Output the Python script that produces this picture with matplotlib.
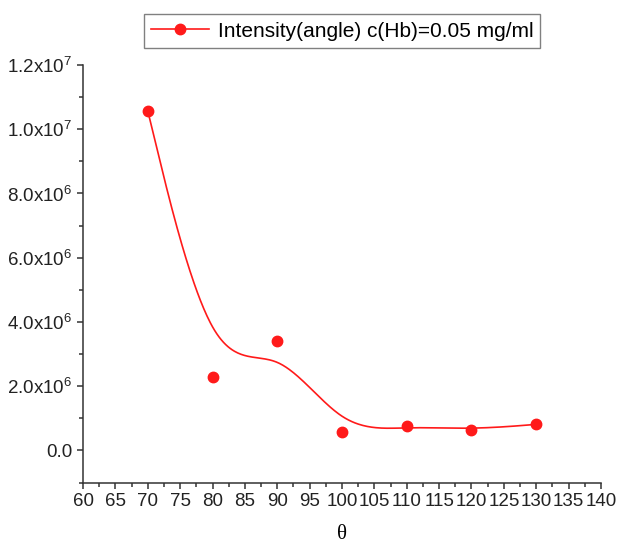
import numpy as np
import matplotlib
matplotlib.use("Agg")
import matplotlib.pyplot as plt
from matplotlib.ticker import MultipleLocator, FuncFormatter

angle = [70, 80, 90, 100, 110, 120, 130]
intensity = [10.57e6, 2.28e6, 3.40e6, 0.56e6, 0.75e6, 0.65e6, 0.81e6]
series_label = "Intensity(angle) c(Hb)=0.05 mg/ml"


def bspline(px, py, per_seg=60):
    # uniform cubic B-spline with the end points tripled, so it starts/ends on the data
    ctrl = np.column_stack([px, py]).astype(float)
    ctrl = np.vstack([ctrl[:1], ctrl[:1], ctrl, ctrl[-1:], ctrl[-1:]])
    t = np.linspace(0, 1, per_seg)
    b = np.column_stack([(1 - t) ** 3,
                         3 * t ** 3 - 6 * t ** 2 + 4,
                         -3 * t ** 3 + 3 * t ** 2 + 3 * t + 1,
                         t ** 3]) / 6
    segs = [b @ ctrl[i:i + 4] for i in range(len(ctrl) - 3)]
    out = np.vstack(segs)
    return out[:, 0], out[:, 1]


def sci_label(v, pos):
    if v == 0:
        return "0.0"
    e = int(np.floor(np.log10(abs(v)) + 1e-9))
    return r"$\mathregular{%.1fx10^{%d}}$" % (v / 10 ** e, e)


plt.rcParams["font.family"] = ["Liberation Sans", "DejaVu Sans"]
plt.rcParams["mathtext.default"] = "regular"

fig = plt.figure(figsize=(6.21, 5.47), dpi=100)
ax = fig.add_axes([0.1337, 0.1179, 0.834, 0.7633])

cx, cy = bspline(angle, intensity)
line, = ax.plot(cx, cy, color="#ff1a1a", lw=1.2)
pts, = ax.plot(angle, intensity, "o", color="#ff1a1a", ms=7.5, mec="#ff1a1a")

ax.set_xlim(60, 140)
ax.set_ylim(-1e6, 1.2e7)
ax.xaxis.set_major_locator(MultipleLocator(5))
ax.xaxis.set_minor_locator(MultipleLocator(2.5))
ax.yaxis.set_major_locator(MultipleLocator(2e6))
ax.yaxis.set_minor_locator(MultipleLocator(1e6))
ax.yaxis.set_major_formatter(FuncFormatter(sci_label))

for side in ["top", "right"]:
    ax.spines[side].set_visible(False)
for side in ["left", "bottom"]:
    ax.spines[side].set_linewidth(1.1)
    ax.spines[side].set_color("#333333")
ax.tick_params(which="major", direction="out", length=4.5, width=1.1, color="#333333",
               labelsize=13.5, labelcolor="#222222", pad=3)
ax.tick_params(which="minor", direction="out", length=2.6, width=1.1, color="#333333")

ax.set_xlabel("θ", family=["Liberation Serif", "DejaVu Serif"], fontsize=15, labelpad=11)

leg = ax.legend([(line, pts)], [series_label], loc="lower center",
                fontsize=15, fancybox=False, edgecolor="#808080",
                framealpha=1, handlelength=2.8, handletextpad=0.4, borderpad=0.35,
                borderaxespad=0, numpoints=1)
leg.set_bbox_to_anchor((0.5, 1.041), transform=ax.transAxes)
leg.get_frame().set_linewidth(1.0)

fig.savefig("out.png", dpi=100)
